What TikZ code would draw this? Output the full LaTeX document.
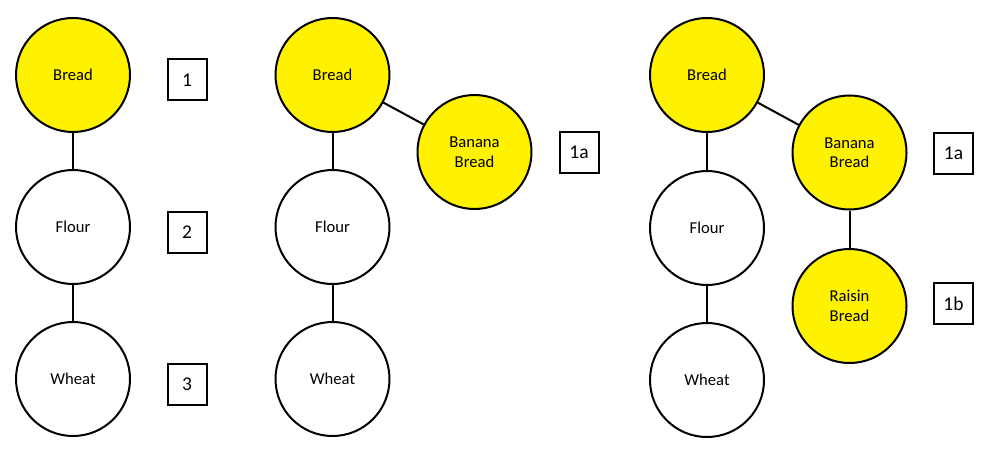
\documentclass[tikz,border=0pt]{standalone}
\usepackage{fontspec}
\setmainfont{Carlito}
\begin{document}
\begin{tikzpicture}[x=1pt,y=-1pt,
  circ/.style={circle,draw=black,line width=2pt,minimum size=114pt,inner sep=0pt,align=center,font=\fontsize{16.6}{19.5}\selectfont},
  yel/.style={circ,fill=yellow},
  wht/.style={circ,fill=white},
  lbl/.style={rectangle,draw=black,line width=2pt,minimum width=39pt,minimum height=41pt,inner sep=0pt,font=\fontsize{19.5}{22}\selectfont},
  conn/.style={line width=2pt}]
\useasboundingbox (0,0) rectangle (992,468);
% left
\node[yel] (b1) at (73,75) {Bread};
\node[wht] (f1) at (73,227) {Flour};
\node[wht] (w1) at (73,379) {Wheat};
\node[lbl] (n1) at (187,80) {1};
\node[lbl] (n2) at (187,232) {2};
\node[lbl] (n3) at (187,384) {3};
\draw[conn] (b1) -- (f1);
\draw[conn] (f1) -- (w1);
% middle
\node[yel] (b2) at (332.5,75) {Bread};
\node[wht] (f2) at (332.5,227) {Flour};
\node[wht] (w2) at (332.5,379) {Wheat};
\node[yel] (bb2) at (474.5,152) {Banana\\Bread};
\node[lbl] (n1a) at (579,152.5) {1a};
\draw[conn] (b2) -- (f2);
\draw[conn] (f2) -- (w2);
\draw[conn] (b2) -- (bb2);
% right
\node[yel] (b3) at (707,75) {Bread};
\node[wht] (f3) at (707,228) {Flour};
\node[wht] (w3) at (707,380) {Wheat};
\node[yel] (bb3) at (849.5,152.5) {Banana\\Bread};
\node[yel] (rb3) at (849.5,306) {Raisin\\Bread};
\node[lbl] (m1a) at (953.5,153) {1a};
\node[lbl] (m1b) at (953.5,303.5) {1b};
\draw[conn] (b3) -- (f3);
\draw[conn] (f3) -- (w3);
\draw[conn] (b3) -- (bb3);
\draw[conn] (bb3) -- (rb3);
\end{tikzpicture}
\end{document}
